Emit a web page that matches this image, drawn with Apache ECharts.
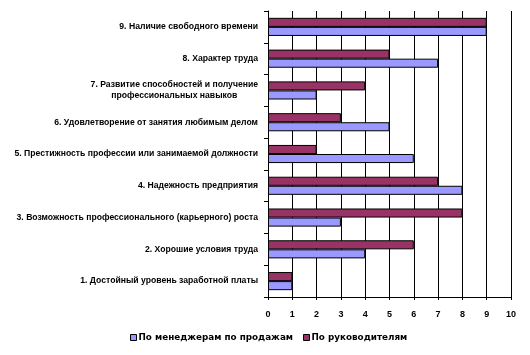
<!DOCTYPE html>
<html><head><meta charset="utf-8">
<script src="https://cdn.jsdelivr.net/npm/echarts@6/dist/echarts.min.js"></script>
<style>html,body{margin:0;padding:0;background:#fff}#c{width:530px;height:355px}</style>
</head><body><div id="c"></div>
<script>
var categories = [
  '1. Достойный уровень заработной платы',
  '2. Хорошие условия труда',
  '3. Возможность профессионального (карьерного) роста',
  '4. Надежность предприятия',
  '5. Престижность профессии или занимаемой должности',
  '6. Удовлетворение от занятия любимым делом',
  '7. Развитие способностей и получение\nпрофессиональных навыков',
  '8. Характер труда',
  '9. Наличие свободного времени'
];
var managers = [1, 4, 3, 8, 6, 5, 2, 7, 9];
var leaders = [1, 6, 8, 7, 2, 3, 4, 5, 9];
var xTicks = [0,1,2,3,4,5,6,7,8,9,10];

var chart = echarts.init(document.getElementById('c'), null, {renderer:'canvas'});
var font = 'Liberation Sans, Arial, sans-serif';
var lfont = 'DejaVu Sans, sans-serif';
chart.setOption({
  animation: false,
  grid: {left: 268, right: 19, top: 11, bottom: 58, containLabel: false},
  legend: {
    bottom: 8, left: 125, itemWidth: 6, itemHeight: 6, itemGap: 10,
    textStyle: {fontFamily: lfont, fontWeight: 'bold', fontSize: 8.8, color: '#000', padding:[0,0,0,-3]},
    data: [
      {name: 'По менеджерам по продажам', icon: 'rect', itemStyle:{borderColor:'#000', borderWidth:1}},
      {name: 'По руководителям', icon: 'rect', itemStyle:{borderColor:'#000', borderWidth:1}}
    ]
  },
  xAxis: {
    type: 'value', min: 0, max: 10, interval: 1,
    axisLine: {show: true, lineStyle: {color: '#000', width: 1}},
    axisTick: {show: true, length: 3, lineStyle: {color: '#000'}},
    splitLine: {show: true, lineStyle: {color: '#000', width: 1}},
    axisLabel: {margin: 13, fontFamily: font, fontWeight: 'bold', fontSize: 9, color: '#000',
      formatter: function(v){ return String(xTicks[v]); }}
  },
  yAxis: {
    type: 'category', data: categories,
    axisLine: {show: true, lineStyle: {color: '#000', width: 1}},
    axisTick: {show: true, length: 4, lineStyle: {color: '#000'}},
    axisLabel: {margin: 10, fontFamily: font, fontWeight: 'bold', fontSize: 8.65, color: '#000',
      lineHeight: 11,
      formatter: function(v){
        var parts = v.split('\n');
        return parts.map(function(p){ return '{c|' + p + '}'; }).join('\n');
      },
      rich: {c: {align: 'center', fontFamily: font, fontWeight: 'bold', fontSize: 8.65, color: '#000', lineHeight: 11}}
    }
  },
  series: [
    {name: 'По руководителям', type: 'bar', data: leaders,
     barGap: '0%', barCategoryGap: '43%',
     itemStyle: {color: '#993366', borderColor: '#000', borderWidth: 1}},
    {name: 'По менеджерам по продажам', type: 'bar', data: managers,
     barGap: '0%', barCategoryGap: '43%',
     itemStyle: {color: '#9999FF', borderColor: '#000', borderWidth: 1}}
  ]
});
</script></body></html>
